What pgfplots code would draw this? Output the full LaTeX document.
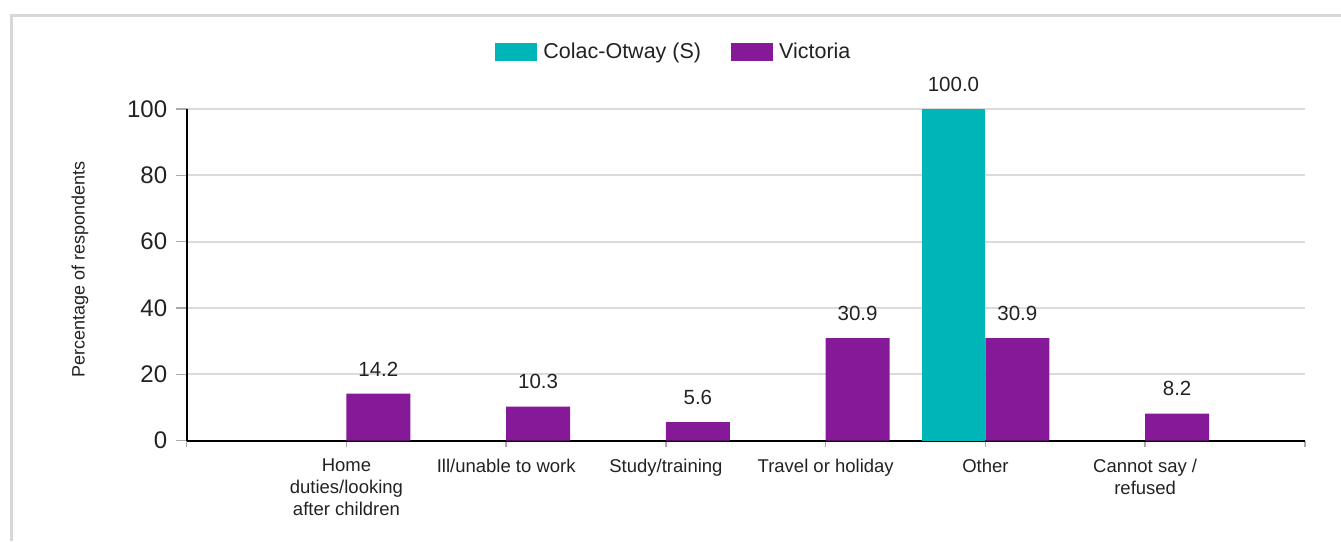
\documentclass[border=0pt]{standalone}
\usepackage{pgfplots}
\pgfplotsset{compat=1.18}
\usepackage{fontspec}
\setmainfont{Liberation Sans}

\definecolor{colac}{RGB}{0,181,184}
\definecolor{vic}{RGB}{134,25,152}
\definecolor{gridgray}{RGB}{219,219,219}
\definecolor{framegray}{RGB}{215,215,215}
\definecolor{tickgray}{RGB}{170,170,170}
\definecolor{txt}{RGB}{34,34,34}

\begin{document}
\begin{tikzpicture}[x=1pt,y=1pt]
\useasboundingbox (0,0) rectangle (1341,541);
% light frame round the chart
\draw[framegray, line width=2.7pt] (11.7,0) -- (11.7,525.7) -- (1341,525.7);
\begin{axis}[
    at={(186.7pt,100.3pt)}, anchor=south west,
    scale only axis, width=1118.3pt, height=331.7pt,
    xmin=-1, xmax=6, ymin=0, ymax=100,
    clip=false,
    axis x line*=bottom, axis y line*=left,
    axis line style={black, line width=2pt},
    ymajorgrids, grid style={gridgray, line width=2pt},
    ytick={0,20,...,100},
    xtick={-1,0,1,2,3,4,5,6},
    xticklabels={{},{Home\\duties/looking\\after children},{Ill/unable to work},{Study/training},{Travel or holiday},{Other},{Cannot say /\\refused},{}},
    tick align=outside,
    major tick length=11pt,
    tick style={tickgray, line width=1.5pt},
    xtick style={/pgfplots/major tick length=6pt},
    /pgf/number format/assume math mode=true,
    yticklabel style={font=\fontsize{24}{28}\selectfont, text=txt, xshift=-5pt},
    xticklabel style={font=\fontsize{18.5}{21.7}\selectfont, align=center, text=txt, yshift=-4pt},
    ylabel={Percentage of respondents},
    every axis y label/.style={at={(axis description cs:-0.0954,0.515)}, rotate=90, anchor=center,
        font=\fontsize{18}{22}\selectfont, text=txt},
    ybar, bar width=0.4,
    nodes near coords={\pgfmathprintnumber[fixed,fixed zerofill,precision=1]{\pgfplotspointmeta}},
    every node near coord/.append style={font=\fontsize{20.5}{24}\selectfont, text=txt, yshift=14pt},
    legend columns=2,
    legend style={at={(axis description cs:0.4357,1.172)}, anchor=center, draw=none, fill=none,
        font=\fontsize{21.5}{25}\selectfont, text=txt,
        /tikz/every odd column/.append style={column sep=4pt},
        /tikz/every even column/.append style={column sep=28pt}},
    legend image code/.code={\fill[#1] (0pt,-9pt) rectangle (42pt,9pt);},
]
\addplot[bar shift=-0.2, fill=colac, draw=none] coordinates {(4,100)};
\addlegendentry{Colac-Otway (S)}
\addplot[bar shift=0.2, fill=vic, draw=none] coordinates {
    (0,14.2) (1,10.3) (2,5.6) (3,30.9) (4,30.9) (5,8.2)
};
\addlegendentry{Victoria}
\end{axis}
\end{tikzpicture}
\end{document}
